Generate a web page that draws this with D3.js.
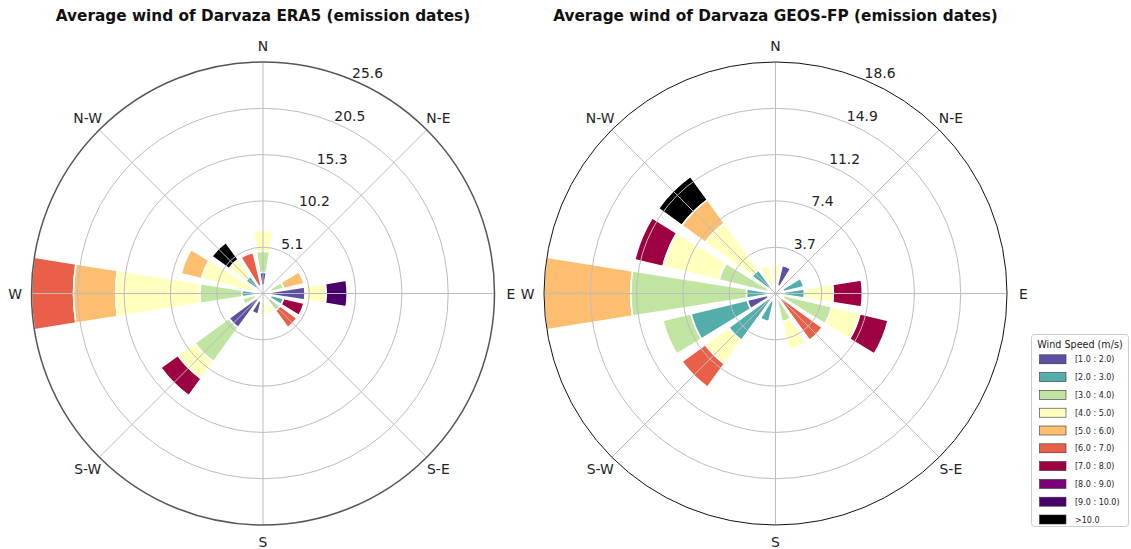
<!DOCTYPE html>
<html>
<head>
<meta charset="utf-8">
<script src="https://cdn.jsdelivr.net/npm/d3@7"></script>
<style>
  body { margin: 0; background: #ffffff; }
  svg { display: block; }
  text { font-family: "DejaVu Sans", "Noto Sans", sans-serif; }
</style>
</head>
<body>
<svg id="chart" width="1131" height="549"></svg>
<script>
// 16 compass sectors, clockwise from north
const directions = ["N", "NNE", "NE", "ENE", "E", "ESE", "SE", "SSE",
                    "S", "SSW", "SW", "WSW", "W", "WNW", "NW", "NNW"];
// labels shown around the rim (every second sector)
const rimLabels = ["N", "N-E", "E", "S-E", "S", "S-W", "W", "N-W"];

// wind speed classes (m/s)
const speedBins = ["[1.0 : 2.0)", "[2.0 : 3.0)", "[3.0 : 4.0)", "[4.0 : 5.0)", "[5.0 : 6.0)",
                   "[6.0 : 7.0)", "[7.0 : 8.0)", "[8.0 : 9.0)", "[9.0 : 10.0)", ">10.0"];
const binColors = ["#5e4fa2", "#52adab", "#bfe5a0", "#ffffbe", "#fdbf6f",
                   "#ea5f47", "#9e0142", "#7a0177", "#49006a", "#000000"];

// frequency (% of emission dates) — one row per speed class, one column per sector
const era5Freq = [
  // N     NNE   NE    ENE    E      ESE    SE     SSE    S      SSW    SW     WSW    W      WNW    NW     NNW
  [2.326, 0, 0, 0,     4.651, 0,     0,     0,     0,     2.326, 4.651, 0,     0,     0,     0,     0    ], // 1-2
  [0,     0, 0, 0,     0,     2.326, 0,     0,     0,     0,     0,     0,     2.326, 0,     2.326, 0    ], // 2-3
  [2.326, 0, 0, 2.326, 0,     0,     2.326, 0,     0,     0,     4.651, 2.326, 4.651, 0,     0,     0    ], // 3-4
  [2.326, 0, 0, 0,     2.326, 0,     0,     2.326, 2.326, 0,     2.326, 0,     9.302, 6.977, 2.326, 0    ], // 4-5
  [0,     0, 0, 2.326, 0,     0,     0,     0,     0,     0,     0,     0,     4.651, 2.326, 0,     0    ], // 5-6
  [0,     0, 0, 0,     0,     0,     2.326, 0,     0,     0,     0,     0,     4.651, 0,     0,     4.651], // 6-7
  [0,     0, 0, 0,     0,     2.326, 0,     0,     0,     0,     2.326, 0,     0,     0,     0,     0    ], // 7-8
  [0,     0, 0, 0,     0,     0,     0,     0,     0,     0,     0,     0,     0,     0,     0,     0    ], // 8-9
  [0,     0, 0, 0,     2.326, 0,     0,     0,     0,     0,     0,     0,     0,     0,     0,     0    ], // 9-10
  [0,     0, 0, 0,     0,     0,     0,     0,     0,     0,     0,     0,     0,     0,     2.326, 0    ]  // >10
];

const geosFreq = [
  // N     NNE    NE  ENE    E      ESE    SE     SSE    S  SSW    SW     WSW    W      WNW    NW     NNW
  [0,     2.326, 0, 0,     0,     0,     0,     0,     0, 0,     0,     2.326, 0,     0,     0,     0    ], // 1-2
  [0,     0,     0, 2.326, 2.326, 0,     0,     0,     0, 2.326, 4.651, 4.651, 2.326, 0,     2.326, 0    ], // 2-3
  [0,     0,     0, 0,     0,     4.651, 0,     2.326, 0, 0,     0,     2.326, 9.302, 4.651, 0,     0    ], // 3-4
  [2.326, 0,     0, 0,     2.326, 2.326, 0,     2.326, 0, 0,     2.326, 0,     0,     4.651, 4.651, 2.326], // 4-5
  [0,     0,     0, 0,     0,     0,     0,     0,     0, 0,     0,     0,     6.977, 0,     2.326, 0    ], // 5-6
  [0,     0,     0, 0,     0,     0,     4.651, 0,     0, 0,     2.326, 0,     0,     0,     0,     0    ], // 6-7
  [0,     0,     0, 0,     2.326, 2.326, 0,     0,     0, 0,     0,     0,     0,     2.326, 0,     0    ], // 7-8
  [0,     0,     0, 0,     0,     0,     0,     0,     0, 0,     0,     0,     0,     0,     0,     0    ], // 8-9
  [0,     0,     0, 0,     0,     0,     0,     0,     0, 0,     0,     0,     0,     0,     0,     0    ], // 9-10
  [0,     0,     0, 0,     0,     0,     0,     0,     0, 0,     0,     0,     0,     0,     2.326, 0    ]  // >10
];

// radial tick labels (five rings up to the largest sector total)
const era5Ticks = ["5.1", "10.2", "15.3", "20.5", "25.6"];
const geosTicks = ["3.7", "7.4", "11.2", "14.9", "18.6"];

const titles = ["Average wind of Darvaza ERA5 (emission dates)",
                "Average wind of Darvaza GEOS-FP (emission dates)"];
const legendTitle = "Wind Speed (m/s)";

const svg = d3.select("#chart");
const OPENING = 0.8;          // bar width as a fraction of the sector
const R = 231.5;              // outer radius in px
const LABEL_SIZE = 13.9;

function drawRose(spec) {
  const { cx, cy, freq, ticks, title, rimColor, rimWidth } = spec;
  const nDir = directions.length;
  const totals = directions.map((_, j) => d3.sum(freq, row => row[j]));
  const rmax = d3.max(totals);
  const r = d3.scaleLinear().domain([0, rmax]).range([0, R]);
  const angle = d3.scaleLinear().domain([0, nDir]).range([0, 2 * Math.PI]);
  const half = (angle(1) - angle(0)) * OPENING / 2;

  const g = svg.append("g").attr("transform", `translate(${cx},${cy})`);

  // stacked speed classes per sector
  const segs = [];
  directions.forEach((d, j) => {
    let base = 0;
    freq.forEach((row, i) => {
      const v = row[j];
      if (v > 0) segs.push({ i, j, r0: base, r1: base + v });
      base += v;
    });
  });
  segs.sort((a, b) => b.i - a.i);

  const arc = d3.arc()
    .innerRadius(s => r(s.r0))
    .outerRadius(s => r(s.r1))
    .startAngle(s => angle(s.j) - half)
    .endAngle(s => angle(s.j) + half);

  g.append("g").selectAll("path")
    .data(segs)
    .join("path")
    .attr("d", arc)
    .attr("fill", s => binColors[s.i])
    .attr("stroke", "#ffffff")
    .attr("stroke-width", 1.6)
    .attr("stroke-linejoin", "miter");

  // white hub where the narrow wedge tips meet
  g.append("circle").attr("r", 9).attr("fill", "#ffffff");

  // grid: rings and spokes, drawn over the bars
  const tickVals = d3.range(1, ticks.length + 1).map(k => rmax * k / ticks.length);
  const grid = g.append("g").attr("fill", "none").attr("stroke", "#bdbdbd").attr("stroke-width", 1);
  grid.selectAll("circle.ring")
    .data(tickVals.slice(0, -1))
    .join("circle")
    .attr("class", "ring")
    .attr("r", v => r(v));
  const spokes = d3.range(0, nDir, 2);
  grid.selectAll("line")
    .data(spokes)
    .join("line")
    .attr("x1", 0).attr("y1", 0)
    .attr("x2", j => R * Math.sin(angle(j)))
    .attr("y2", j => -R * Math.cos(angle(j)));

  // outer rim
  g.append("circle").attr("r", r(rmax)).attr("fill", "none")
    .attr("stroke", rimColor).attr("stroke-width", rimWidth);

  // radial tick labels along the 22.5° spoke
  const la = angle(1);
  g.append("g").selectAll("text")
    .data(tickVals)
    .join("text")
    .attr("x", v => r(v) * Math.sin(la) + 0.5)
    .attr("y", v => -r(v) * Math.cos(la) - 1.5)
    .attr("font-size", LABEL_SIZE)
    .attr("fill", "#222")
    .text((v, k) => ticks[k]);

  // compass labels, centred on a circle just outside the rim
  const labelDist = R + 16.5;
  const capHalf = LABEL_SIZE * 0.365;
  g.append("g").selectAll("text")
    .data(rimLabels)
    .join("text")
    .attr("font-size", LABEL_SIZE)
    .attr("fill", "#222")
    .attr("text-anchor", "middle")
    .attr("x", (d, k) => labelDist * Math.sin(angle(spokes[k])))
    .attr("y", (d, k) => -labelDist * Math.cos(angle(spokes[k])) + capHalf)
    .text(d => d);

  // title
  svg.append("text")
    .attr("x", cx).attr("y", 21)
    .attr("text-anchor", "middle")
    .attr("font-size", 15.3)
    .attr("font-weight", "bold")
    .attr("fill", "#111")
    .text(title);
}

drawRose({ cx: 263, cy: 293.5, freq: era5Freq, ticks: era5Ticks, title: titles[0],
           rimColor: "#555555", rimWidth: 1.5 });
drawRose({ cx: 775.5, cy: 293.5, freq: geosFreq, ticks: geosTicks, title: titles[1],
           rimColor: "#111111", rimWidth: 1 });

// legend
const legend = svg.append("g").attr("transform", "translate(1031.5,334.5)");
legend.append("rect")
  .attr("width", 97).attr("height", 192).attr("rx", 3)
  .attr("fill", "#ffffff").attr("stroke", "#cccccc").attr("stroke-width", 1);
legend.append("text")
  .attr("x", 48.5).attr("y", 13)
  .attr("text-anchor", "middle")
  .attr("font-size", 9.6)
  .attr("fill", "#222")
  .text(legendTitle);
const rowY = d3.scaleLinear().domain([0, speedBins.length - 1]).range([24.8, 185]);
const rows = legend.selectAll("g.row")
  .data(speedBins)
  .join("g")
  .attr("class", "row")
  .attr("transform", (d, i) => `translate(0,${rowY(i)})`);
rows.append("rect")
  .attr("x", 8).attr("y", -4.5).attr("width", 26.5).attr("height", 9)
  .attr("fill", (d, i) => binColors[i])
  .attr("stroke", "#333").attr("stroke-width", 0.6);
rows.append("text")
  .attr("x", 43.5).attr("y", 3)
  .attr("font-size", 8)
  .attr("fill", "#222")
  .text(d => d);
</script>
</body>
</html>
